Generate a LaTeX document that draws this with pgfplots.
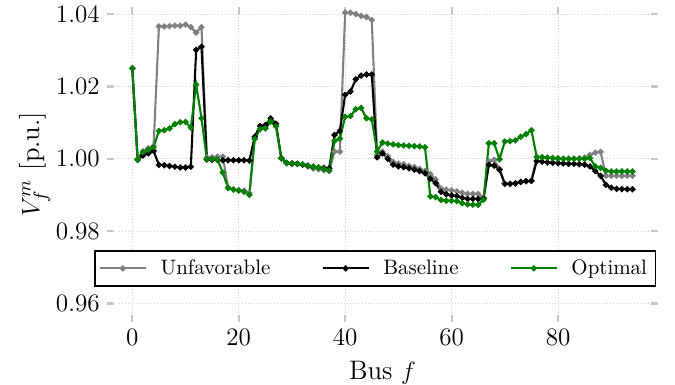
\documentclass[border=0pt]{standalone}
\usepackage{pgfplots}
\pgfplotsset{compat=1.18}
\usepackage{pgfplotstable}
\definecolor{ugray}{RGB}{128,128,128}
\definecolor{ogreen}{RGB}{0,128,0}
\pgfplotstableread{
b unf base opt
0 1.0250 1.0250 1.0250
1 1.0000 0.9997 0.9998
2 1.0021 1.0009 1.0018
3 1.0029 1.0015 1.0025
4 1.0036 1.0022 1.0032
5 1.0366 0.9983 1.0077
6 1.0366 0.9982 1.0079
7 1.0367 0.9980 1.0084
8 1.0368 0.9978 1.0096
9 1.0368 0.9976 1.0101
10 1.0371 0.9976 1.0102
11 1.0364 0.9978 1.0086
12 1.0349 1.0301 1.0205
13 1.0364 1.0310 1.0112
14 1.0004 0.9998 0.9999
15 1.0004 0.9997 0.9999
16 1.0006 0.9997 0.9998
17 1.0006 0.9996 0.9962
18 0.9921 0.9996 0.9919
19 0.9915 0.9996 0.9915
20 0.9914 0.9996 0.9912
21 0.9912 0.9996 0.9909
22 0.9906 0.9995 0.9900
23 1.0055 1.0061 1.0055
24 1.0083 1.0091 1.0082
25 1.0085 1.0093 1.0084
26 1.0104 1.0112 1.0103
27 1.0090 1.0097 1.0090
28 1.0001 1.0002 1.0001
29 0.9988 0.9989 0.9989
30 0.9986 0.9987 0.9987
31 0.9986 0.9986 0.9986
32 0.9984 0.9984 0.9985
33 0.9979 0.9981 0.9981
34 0.9973 0.9978 0.9978
35 0.9971 0.9976 0.9976
36 0.9968 0.9975 0.9972
37 0.9966 0.9974 0.9968
38 1.0020 1.0066 1.0049
39 1.0020 1.0077 1.0056
40 1.0404 1.0177 1.0116
41 1.0404 1.0186 1.0118
42 1.0400 1.0220 1.0137
43 1.0395 1.0230 1.0141
44 1.0392 1.0233 1.0112
45 1.0384 1.0233 1.0109
46 1.0011 1.0004 1.0020
47 1.0020 1.0015 1.0045
48 1.0007 1.0000 1.0042
49 0.9992 0.9984 1.0040
50 0.9987 0.9979 1.0038
51 0.9985 0.9977 1.0037
52 0.9980 0.9974 1.0036
53 0.9977 0.9970 1.0035
54 0.9972 0.9966 1.0034
55 0.9966 0.9960 1.0032
56 0.9958 0.9945 0.9896
57 0.9943 0.9933 0.9894
58 0.9918 0.9909 0.9886
59 0.9915 0.9902 0.9884
60 0.9913 0.9899 0.9884
61 0.9910 0.9897 0.9883
62 0.9906 0.9892 0.9877
63 0.9903 0.9889 0.9874
64 0.9903 0.9889 0.9873
65 0.9903 0.9889 0.9873
66 0.9892 0.9890 0.9887
67 0.9993 0.9983 1.0043
68 0.9997 0.9981 1.0043
69 0.9972 0.9970 0.9999
70 0.9931 0.9931 1.0048
71 0.9931 0.9931 1.0049
72 0.9932 0.9932 1.0051
73 0.9936 0.9936 1.0061
74 0.9938 0.9938 1.0068
75 0.9939 0.9939 1.0079
76 1.0005 0.9994 1.0005
77 1.0004 0.9992 1.0004
78 1.0003 0.9990 1.0003
79 1.0002 0.9989 1.0002
80 1.0001 0.9988 1.0001
81 1.0000 0.9987 1.0000
82 1.0000 0.9986 1.0000
83 1.0000 0.9986 1.0000
84 1.0001 0.9985 1.0000
85 1.0003 0.9984 1.0000
86 1.0011 0.9979 1.0002
87 1.0017 0.9966 0.9979
88 1.0019 0.9953 0.9975
89 0.9953 0.9928 0.9967
90 0.9953 0.9920 0.9965
91 0.9953 0.9917 0.9965
92 0.9953 0.9916 0.9965
93 0.9953 0.9916 0.9965
94 0.9953 0.9916 0.9965
}\datatable
\begin{document}
\begin{tikzpicture}
\begin{axis}[
  scale only axis,
  width=263.6pt, height=150.7pt,
  xmin=-4.75, xmax=98.8,
  ymin=0.9549, ymax=1.042,
  xtick={0,20,40,60,80},
  ytick={0.96,0.98,1.00,1.02,1.04},
  yticklabel style={/pgf/number format/.cd, fixed, fixed zerofill, precision=2},
  ticklabel style={font=\fontsize{12.6}{15}\selectfont},
  label style={font=\fontsize{12.8}{15}\selectfont},
  xlabel={Bus $f$},
  ylabel={$V_f^m$ [p.u.]},
  xlabel style={at={(axis description cs:0.5,0)}, anchor=center, yshift=-24.5pt},
  ylabel style={at={(axis description cs:-0.131,0.5)}, anchor=center},
  axis line style={draw=none},
  tick style={draw=gray!45, line width=1pt},
  tick align=inside,
  major tick length=3.3pt,
  grid=major,
  major grid style={draw=gray!35, densely dotted, line width=0.5pt},
  xticklabel style={yshift=0pt},
  legend columns=3,
  legend style={at={(axis description cs:0.4864,0.170)}, anchor=center, draw=black, line width=0.8pt,
    font=\normalsize, inner xsep=2pt, inner ysep=2pt,
    /tikz/every odd column/.append style={column sep=4.5pt},
    /tikz/every even column/.append style={column sep=22.5pt}},
  legend image code/.code={
    \draw[#1, mark repeat=2, mark phase=2] plot coordinates {(0pt,0pt) (11pt,0pt) (22pt,0pt)};},
  every axis plot/.append style={line width=1pt, mark=*, mark size=0.9pt},
]
\addplot[color=ugray, mark options={fill=ugray, draw=ugray}] table[x=b, y=unf] {\datatable};
\addlegendentry{Unfavorable}
\addplot[color=black, mark options={fill=black, draw=black}] table[x=b, y=base] {\datatable};
\addlegendentry{Baseline}
\addplot[color=ogreen, mark options={fill=ogreen, draw=ogreen}] table[x=b, y=opt] {\datatable};
\addlegendentry{Optimal}
\end{axis}
\pgfresetboundingbox
\path ([xshift=-51.2pt,yshift=-30.1pt]current axis.south west) rectangle ([xshift=8.1pt,yshift=3.3pt]current axis.north east);
\end{tikzpicture}
\end{document}
